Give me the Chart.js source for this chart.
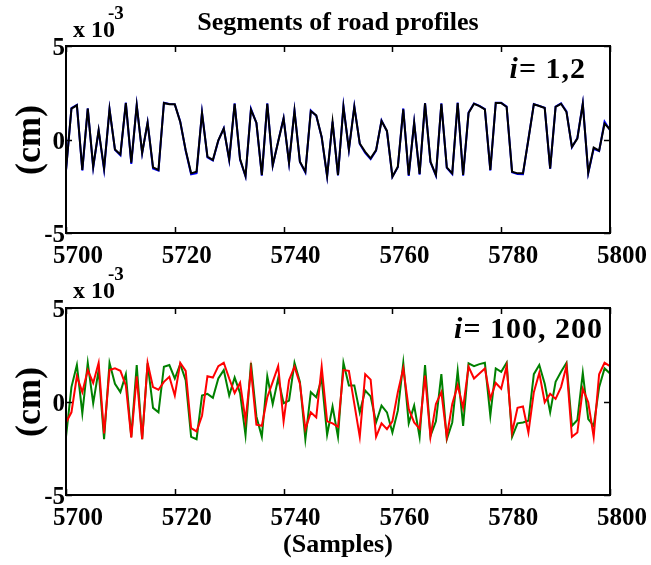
<!DOCTYPE html>
<html>
<head>
<meta charset="utf-8">
<script src="https://cdn.jsdelivr.net/npm/chart.js@4.4.1/dist/chart.umd.min.js"></script>
<style>
  html, body { margin: 0; padding: 0; background: #fff; }
  #wrap { position: relative; width: 651px; height: 565px; overflow: hidden;
          font-family: 'Liberation Serif', 'Times New Roman', serif; font-weight: bold; color: #000; }
  canvas { position: absolute; left: 0; }
  .txt { position: absolute; white-space: nowrap; line-height: 1; }
  .ylab { position: absolute; white-space: nowrap; line-height: 1; font-size: 36px;
          transform: translate(-50%, -50%) rotate(-90deg); }
</style>
</head>
<body>
<div id="wrap">
  <canvas id="topChart" style="top:0px" width="651" height="275"></canvas>
  <canvas id="bottomChart" style="top:262px" width="651" height="275"></canvas>

  <div class="txt" style="left:0; width:676px; text-align:center; top:9px; font-size:26px;">Segments of road profiles</div>
  <div class="txt" style="left:73px; top:17px; font-size:24px;">x 10</div>
  <div class="txt" style="left:108px; top:3px; font-size:19px;">-3</div>
  <div class="txt" style="left:73px; top:278px; font-size:24px;">x 10</div>
  <div class="txt" style="left:108px; top:264px; font-size:19px;">-3</div>

  <div class="ylab" style="left:28px; top:140px;">(cm)</div>
  <div class="ylab" style="left:28px; top:402px;">(cm)</div>

  <div class="txt" style="right:65px; top:53px; font-size:30px; letter-spacing:1px;"><i>i</i>= 1,2</div>
  <div class="txt" style="right:48px; top:313px; font-size:30px; letter-spacing:1px;"><i>i</i>= 100, 200</div>

  <div class="txt" style="left:0; width:676px; text-align:center; top:531px; font-size:26px;">(Samples)</div>
</div>

<script>
// sample numbers on the x axis
const samples = Array.from({ length: 101 }, (_, i) => 5700 + i);
const xTicks = [5700, 5720, 5740, 5760, 5780, 5800];
const yTicks = [-5, 0, 5];

// road profile segments, units of 1e-3 cm
const profile1 = [
  -1.63,
  1.65, 1.83, -1.63, 1.65, -1.45, 0.5, -1.54, 1.61, -0.53, -0.8,
  1.95, -1.24, 1.83, -0.71, 0.9, -1.49, -1.63, 1.95, 1.88, 1.88,
  0.94, -0.57, -1.81, -1.72, 1.42, -0.92, -1.1, -0.04, 0.59, -1.06,
  1.91, -1.05, -1.95, 1.6, 0.9, -1.9, 1.91, -1.37, -0.12, 1.12,
  -1.24, 1.52, -1.19, -1.72, 1.52, 1.29, 0.14, -1.95, 0.94, -1.9,
  1.74, -0.53, 1.74, -0.21, -0.66, -1.01, -0.57, 0.99, 0.46, -1.99,
  -1.45, 1.61, -1.9, 0.9, -1.84, 1.93, -1.19, -1.9, 1.91, -1.49,
  -1.81, 1.95, -1.9, 1.42, 1.91, 1.79, 1.61, -1.63, 1.95, 1.95,
  1.74, -1.72, -1.81, -1.81, 0.0, 1.88, 1.79, 1.68, -1.54, 1.74,
  1.91, 1.47, -0.39, 0.05, 1.91, -1.77, -0.43, -0.6, 0.85, 0.53
];
const profile2 = [
  -1.66,
  1.68, 1.85, -1.66, 1.66, -1.5, 0.48, -1.62, 1.63, -0.55, -0.84,
  1.97, -1.3, 1.85, -0.74, 0.92, -1.55, -1.66, 1.97, 1.9, 1.88,
  0.96, -0.6, -1.86, -1.8, 1.45, -0.95, -1.12, -0.06, 0.6, -1.1,
  1.93, -1.08, -1.98, 1.64, 0.88, -1.93, 1.93, -1.4, -0.1, 1.15,
  -1.27, 1.56, -1.2, -1.76, 1.55, 1.27, 0.12, -1.98, 0.96, -1.92,
  1.8, -0.55, 1.78, -0.24, -0.72, -1.05, -0.6, 1.02, 0.44, -2.0,
  -1.48, 1.66, -1.95, 0.92, -1.88, 1.95, -1.22, -1.93, 1.93, -1.52,
  -1.85, 1.97, -1.93, 1.44, 1.93, 1.8, 1.62, -1.66, 1.97, 1.96,
  1.76, -1.75, -1.85, -1.86, 0.02, 1.9, 1.8, 1.7, -1.57, 1.76,
  1.93, 1.5, -0.42, 0.08, 1.93, -1.8, -0.5, -0.62, 0.95, 0.5
];
const profile100 = [
  -1.89,
  0.77, 1.95, -0.63, 2.07, -0.09, 1.68, -2.02, 2.07, 0.95, 0.5,
  1.46, -1.89, 1.95, -2.02, 2.04, -0.34, -0.58, 1.86, 1.95, 1.23,
  2.0, 1.14, -1.89, -2.02, 0.32, 0.41, 0.2, 1.23, 1.68, 0.32,
  1.28, 0.45, -1.8, 2.07, -0.8, -1.89, 1.35, -0.13, 1.23, -0.09,
  0.05, 2.07, 1.05, -2.02, 0.5, 0.23, 1.23, -1.78, -0.27, -1.89,
  2.07, 0.86, 0.86, -0.58, 0.59, 0.27, -1.12, -0.22, -0.58, -1.66,
  -0.49, 2.07, -1.17, -0.22, -1.89, 1.95, -1.84, -1.06, 1.46, -2.02,
  -1.12, 1.64, -1.3, 2.04, 1.89, 2.0, 2.07, -0.76, 1.77, 1.59,
  2.07, -1.89, -1.17, -1.12, -1.03, 1.46, 1.95, 0.95, -0.58, 1.05,
  1.59, 2.07, -1.3, -0.99, 1.53, -0.94, -1.3, 0.77, 1.77, 1.5
];
const profile200 = [
  -1.12,
  -0.58, 1.35, 0.5, 1.68, 0.99, 2.07, -1.71, 1.68, 1.77, 1.64,
  0.86, -1.93, 1.35, -2.02, 2.07, 0.77, 0.63, 1.05, 1.32, 0.32,
  2.07, 1.64, -1.42, -1.6, -0.76, 1.35, 1.28, 1.89, 2.07, 1.23,
  0.45, 1.0, -1.03, 1.72, -1.24, -1.3, 0.23, 1.05, 1.89, -1.06,
  1.14, 1.86, 0.95, -1.48, -0.58, -0.85, 1.86, -1.06, -1.17, -1.35,
  1.68, 1.64, -0.13, -1.89, 1.46, 1.17, -1.89, -1.17, -1.48, -1.06,
  0.5, 1.77, -0.4, -1.12, -1.45, 1.38, -1.89, -0.13, 0.5, -1.89,
  -0.13, 0.86, -0.34, 1.86, 1.23, 1.5, 1.77, 0.14, 0.99, 0.68,
  1.89, -1.66, -0.34, -0.27, -1.66, 0.5, 1.53, -0.04, 0.41, 0.14,
  0.77, 1.89, -1.89, -1.66, 0.68, -0.04, -1.89, 1.46, 2.07, 1.89
];

Chart.defaults.font.family = "'Liberation Serif', 'Times New Roman', serif";
Chart.defaults.font.weight = 'bold';
Chart.defaults.color = '#000';

// MATLAB style box with inward tick marks
const boxPlugin = {
  id: 'box',
  afterDraw(chart) {
    const { ctx, chartArea: a, scales: { x, y } } = chart;
    const len = 6;
    ctx.save();
    ctx.strokeStyle = '#000';
    ctx.lineWidth = 1.5;
    ctx.beginPath();
    xTicks.forEach(v => {
      const px = Math.round(x.getPixelForValue(v)) + 0.5;
      ctx.moveTo(px, a.bottom); ctx.lineTo(px, a.bottom - len);
      ctx.moveTo(px, a.top); ctx.lineTo(px, a.top + len);
    });
    yTicks.forEach(v => {
      const py = Math.round(y.getPixelForValue(v)) + 0.5;
      ctx.moveTo(a.left, py); ctx.lineTo(a.left + len, py);
      ctx.moveTo(a.right, py); ctx.lineTo(a.right - len, py);
    });
    ctx.stroke();
    ctx.lineWidth = 2;
    ctx.strokeRect(a.left, a.top, a.right - a.left, a.bottom - a.top);
    ctx.restore();
  }
};

function toPoints(values) {
  return values.map((v, i) => ({ x: samples[i], y: v }));
}

function makeChart(id, datasets) {
  return new Chart(document.getElementById(id), {
    type: 'line',
    data: { datasets: datasets },
    options: {
      responsive: false,
      animation: false,
      layout: { padding: { top: 46, right: 41, left: 0, bottom: 0 } },
      plugins: { legend: { display: false }, tooltip: { enabled: false } },
      elements: { point: { radius: 0 }, line: { tension: 0, borderWidth: 2 } },
      scales: {
        x: {
          type: 'linear',
          min: 5700,
          max: 5800,
          grid: { display: false, tickLength: 0 },
          border: { display: false },
          afterBuildTicks: s => { s.ticks = xTicks.map(v => ({ value: v })); },
          afterFit: s => { s.height = 42; },
          ticks: { padding: 9, labelOffset: 12, font: { size: 25 }, maxRotation: 0,
                   callback: v => String(v) }
        },
        y: {
          min: -5,
          max: 5,
          grid: { display: false, tickLength: 0 },
          border: { display: false },
          afterBuildTicks: s => { s.ticks = yTicks.map(v => ({ value: v })); },
          afterFit: s => { s.width = 66; },
          ticks: { padding: 1, labelOffset: 3, font: { size: 25 }, callback: v => String(v) }
        }
      }
    },
    plugins: [boxPlugin]
  });
}

// first dataset is painted on top
makeChart('topChart', [
  { data: toPoints(profile1), borderColor: '#000000' },
  { data: toPoints(profile2), borderColor: '#0000ff' }
]);

makeChart('bottomChart', [
  { data: toPoints(profile200), borderColor: '#ff0000' },
  { data: toPoints(profile100), borderColor: '#008000' }
]);
</script>
</body>
</html>
